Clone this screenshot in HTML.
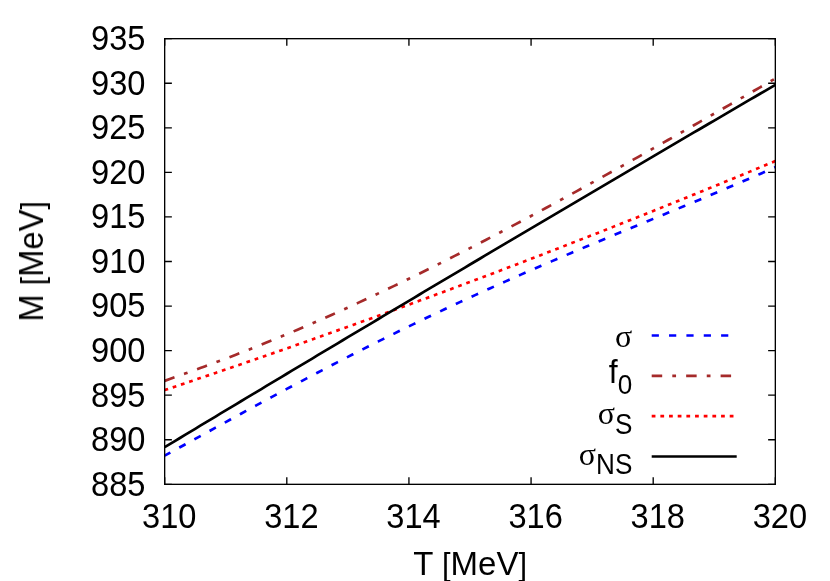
<!DOCTYPE html>
<html><head><meta charset="utf-8"><title>plot</title>
<style>
html,body{margin:0;padding:0;background:#fff;}
body{width:830px;height:581px;overflow:hidden;}
svg{display:block;}
g.t{will-change:transform;}
text{font-family:"Liberation Sans",sans-serif;font-size:32px;fill:#000;}
.sym{font-family:"Liberation Serif",serif;}
</style></head><body>
<svg width="830" height="581" viewBox="0 0 830 581">
<rect x="0" y="0" width="830" height="581" fill="#fff"/>
<g stroke="#000" stroke-width="1.333" fill="none" stroke-linecap="butt">
<path d="M164.67,484.33h7.2M775.33,484.33h-7.2"/>
<path d="M164.67,439.76h7.2M775.33,439.76h-7.2"/>
<path d="M164.67,395.20h7.2M775.33,395.20h-7.2"/>
<path d="M164.67,350.63h7.2M775.33,350.63h-7.2"/>
<path d="M164.67,306.07h7.2M775.33,306.07h-7.2"/>
<path d="M164.67,261.50h7.2M775.33,261.50h-7.2"/>
<path d="M164.67,216.93h7.2M775.33,216.93h-7.2"/>
<path d="M164.67,172.37h7.2M775.33,172.37h-7.2"/>
<path d="M164.67,127.80h7.2M775.33,127.80h-7.2"/>
<path d="M164.67,83.24h7.2M775.33,83.24h-7.2"/>
<path d="M164.67,38.67h7.2M775.33,38.67h-7.2"/>
<path d="M164.67,484.33v-7.2M164.67,38.67v7.2"/>
<path d="M286.80,484.33v-7.2M286.80,38.67v7.2"/>
<path d="M408.93,484.33v-7.2M408.93,38.67v7.2"/>
<path d="M531.07,484.33v-7.2M531.07,38.67v7.2"/>
<path d="M653.20,484.33v-7.2M653.20,38.67v7.2"/>
<path d="M775.33,484.33v-7.2M775.33,38.67v7.2"/>
</g>
<g class="t" text-anchor="end">
<text transform="translate(145.40,495.73) scale(1,1.05)"><tspan font-size="32.6">885</tspan></text>
<text transform="translate(145.40,451.16) scale(1,1.05)"><tspan font-size="32.6">890</tspan></text>
<text transform="translate(145.40,406.60) scale(1,1.05)"><tspan font-size="32.6">895</tspan></text>
<text transform="translate(145.40,362.03) scale(1,1.05)"><tspan font-size="32.6">900</tspan></text>
<text transform="translate(145.40,317.47) scale(1,1.05)"><tspan font-size="32.6">905</tspan></text>
<text transform="translate(145.40,272.90) scale(1,1.05)"><tspan font-size="32.6">910</tspan></text>
<text transform="translate(145.40,228.33) scale(1,1.05)"><tspan font-size="32.6">915</tspan></text>
<text transform="translate(145.40,183.77) scale(1,1.05)"><tspan font-size="32.6">920</tspan></text>
<text transform="translate(145.40,139.20) scale(1,1.05)"><tspan font-size="32.6">925</tspan></text>
<text transform="translate(145.40,94.64) scale(1,1.05)"><tspan font-size="32.6">930</tspan></text>
<text transform="translate(145.40,50.07) scale(1,1.05)"><tspan font-size="32.6">935</tspan></text>
</g>
<g class="t" text-anchor="middle">
<text transform="translate(169.27,527.80) scale(1,1.07)"><tspan font-size="32.6">310</tspan></text>
<text transform="translate(291.40,527.80) scale(1,1.07)"><tspan font-size="32.6">312</tspan></text>
<text transform="translate(413.53,527.80) scale(1,1.07)"><tspan font-size="32.6">314</tspan></text>
<text transform="translate(535.67,527.80) scale(1,1.07)"><tspan font-size="32.6">316</tspan></text>
<text transform="translate(657.80,527.80) scale(1,1.07)"><tspan font-size="32.6">318</tspan></text>
<text transform="translate(779.93,527.80) scale(1,1.07)"><tspan font-size="32.6">320</tspan></text>
<text transform="translate(470.10,575.10) scale(1,1.0)"><tspan font-size="33">T <tspan font-size="30.8" dy="-0.6">[</tspan><tspan font-size="33" dy="0.6">MeV</tspan><tspan font-size="30.8" dy="-0.6">]</tspan></tspan></text>
<text transform="translate(43.50,261.35) rotate(-90) scale(1,1.05)"><tspan font-size="32.7">M <tspan font-size="30.4" dy="-0.6">[</tspan><tspan font-size="32.7" dy="0.6">MeV</tspan><tspan font-size="30.4" dy="-0.6">]</tspan></tspan></text>
</g>
<clipPath id="c"><rect x="164.67" y="38.67" width="610.6600000000001" height="445.65999999999997"/></clipPath>
<g fill="none" stroke-width="2.667" stroke-linecap="butt" clip-path="url(#c)">
<path d="M164.67,455.68 L169.76,452.88 L174.85,450.08 L179.94,447.28 L185.03,444.48 L190.11,441.68 L195.20,438.87 L200.29,436.07 L205.38,433.27 L210.47,430.47 L215.56,427.67 L220.65,424.88 L225.74,422.08 L230.82,419.29 L235.91,416.51 L241.00,413.73 L246.09,410.95 L251.18,408.18 L256.27,405.41 L261.36,402.65 L266.45,399.89 L271.54,397.14 L276.62,394.40 L281.71,391.67 L286.80,388.94 L291.89,386.22 L296.98,383.51 L302.07,380.81 L307.16,378.11 L312.25,375.43 L317.34,372.75 L322.42,370.08 L327.51,367.42 L332.60,364.78 L337.69,362.14 L342.78,359.51 L347.87,356.89 L352.96,354.29 L358.05,351.69 L363.13,349.11 L368.22,346.53 L373.31,343.97 L378.40,341.42 L383.49,338.88 L388.58,336.35 L393.67,333.83 L398.76,331.32 L403.85,328.83 L408.93,326.35 L414.02,323.88 L419.11,321.42 L424.20,318.97 L429.29,316.53 L434.38,314.11 L439.47,311.70 L444.56,309.29 L449.64,306.91 L454.73,304.53 L459.82,302.16 L464.91,299.81 L470.00,297.46 L475.09,295.13 L480.18,292.81 L485.27,290.50 L490.36,288.20 L495.44,285.91 L500.53,283.63 L505.62,281.36 L510.71,279.11 L515.80,276.86 L520.89,274.62 L525.98,272.39 L531.07,270.17 L536.15,267.96 L541.24,265.76 L546.33,263.56 L551.42,261.38 L556.51,259.20 L561.60,257.03 L566.69,254.87 L571.78,252.72 L576.87,250.57 L581.95,248.43 L587.04,246.29 L592.13,244.16 L597.22,242.03 L602.31,239.91 L607.40,237.80 L612.49,235.69 L617.58,233.58 L622.67,231.47 L627.75,229.37 L632.84,227.27 L637.93,225.17 L643.02,223.07 L648.11,220.98 L653.20,218.88 L658.29,216.79 L663.38,214.69 L668.46,212.59 L673.55,210.49 L678.64,208.39 L683.73,206.28 L688.82,204.17 L693.91,202.06 L699.00,199.94 L704.09,197.82 L709.18,195.69 L714.26,193.55 L719.35,191.41 L724.44,189.26 L729.53,187.10 L734.62,184.93 L739.71,182.75 L744.80,180.56 L749.89,178.36 L754.97,176.14 L760.06,173.92 L765.15,171.68 L770.24,169.42 L775.33,167.15" stroke="#0000ff" stroke-dasharray="7.2 10.12" stroke-dashoffset="0.7"/>
<path d="M164.67,380.88 L169.76,379.06 L174.85,377.23 L179.94,375.41 L185.03,373.58 L190.11,371.75 L195.20,369.90 L200.29,368.05 L205.38,366.18 L210.47,364.30 L215.56,362.41 L220.65,360.50 L225.74,358.58 L230.82,356.64 L235.91,354.68 L241.00,352.71 L246.09,350.73 L251.18,348.72 L256.27,346.70 L261.36,344.67 L266.45,342.61 L271.54,340.54 L276.62,338.45 L281.71,336.35 L286.80,334.23 L291.89,332.09 L296.98,329.94 L302.07,327.77 L307.16,325.59 L312.25,323.39 L317.34,321.17 L322.42,318.94 L327.51,316.69 L332.60,314.42 L337.69,312.15 L342.78,309.85 L347.87,307.54 L352.96,305.22 L358.05,302.88 L363.13,300.53 L368.22,298.16 L373.31,295.78 L378.40,293.39 L383.49,290.98 L388.58,288.56 L393.67,286.12 L398.76,283.67 L403.85,281.21 L408.93,278.74 L414.02,276.25 L419.11,273.75 L424.20,271.24 L429.29,268.72 L434.38,266.18 L439.47,263.63 L444.56,261.07 L449.64,258.50 L454.73,255.92 L459.82,253.33 L464.91,250.73 L470.00,248.11 L475.09,245.49 L480.18,242.85 L485.27,240.21 L490.36,237.55 L495.44,234.89 L500.53,232.21 L505.62,229.53 L510.71,226.84 L515.80,224.14 L520.89,221.42 L525.98,218.71 L531.07,215.98 L536.15,213.24 L541.24,210.50 L546.33,207.74 L551.42,204.98 L556.51,202.22 L561.60,199.44 L566.69,196.66 L571.78,193.87 L576.87,191.07 L581.95,188.27 L587.04,185.46 L592.13,182.64 L597.22,179.82 L602.31,176.99 L607.40,174.15 L612.49,171.31 L617.58,168.47 L622.67,165.62 L627.75,162.76 L632.84,159.90 L637.93,157.04 L643.02,154.17 L648.11,151.29 L653.20,148.41 L658.29,145.53 L663.38,142.64 L668.46,139.75 L673.55,136.86 L678.64,133.96 L683.73,131.06 L688.82,128.16 L693.91,125.25 L699.00,122.34 L704.09,119.43 L709.18,116.52 L714.26,113.60 L719.35,110.68 L724.44,107.77 L729.53,104.85 L734.62,101.92 L739.71,99.00 L744.80,96.08 L749.89,93.15 L754.97,90.23 L760.06,87.30 L765.15,84.37 L770.24,81.45 L775.33,78.52" stroke="#a52a2a" stroke-dasharray="10.53 10.13 3.76 10.137" stroke-dashoffset="0.1"/>
<path d="M164.67,390.06 L169.76,388.36 L174.85,386.66 L179.94,384.96 L185.03,383.25 L190.11,381.54 L195.20,379.83 L200.29,378.11 L205.38,376.39 L210.47,374.66 L215.56,372.93 L220.65,371.20 L225.74,369.46 L230.82,367.73 L235.91,365.98 L241.00,364.24 L246.09,362.49 L251.18,360.73 L256.27,358.98 L261.36,357.21 L266.45,355.45 L271.54,353.68 L276.62,351.91 L281.71,350.14 L286.80,348.36 L291.89,346.58 L296.98,344.79 L302.07,343.00 L307.16,341.21 L312.25,339.41 L317.34,337.61 L322.42,335.81 L327.51,334.00 L332.60,332.19 L337.69,330.38 L342.78,328.56 L347.87,326.74 L352.96,324.91 L358.05,323.09 L363.13,321.25 L368.22,319.42 L373.31,317.58 L378.40,315.74 L383.49,313.89 L388.58,312.04 L393.67,310.19 L398.76,308.33 L403.85,306.47 L408.93,304.61 L414.02,302.74 L419.11,300.87 L424.20,298.99 L429.29,297.12 L434.38,295.23 L439.47,293.35 L444.56,291.46 L449.64,289.57 L454.73,287.67 L459.82,285.77 L464.91,283.87 L470.00,281.96 L475.09,280.05 L480.18,278.14 L485.27,276.22 L490.36,274.30 L495.44,272.38 L500.53,270.45 L505.62,268.52 L510.71,266.58 L515.80,264.64 L520.89,262.70 L525.98,260.76 L531.07,258.81 L536.15,256.85 L541.24,254.90 L546.33,252.94 L551.42,250.97 L556.51,249.01 L561.60,247.04 L566.69,245.06 L571.78,243.08 L576.87,241.10 L581.95,239.12 L587.04,237.13 L592.13,235.14 L597.22,233.14 L602.31,231.14 L607.40,229.14 L612.49,227.13 L617.58,225.13 L622.67,223.11 L627.75,221.10 L632.84,219.07 L637.93,217.05 L643.02,215.02 L648.11,212.99 L653.20,210.96 L658.29,208.92 L663.38,206.88 L668.46,204.83 L673.55,202.78 L678.64,200.73 L683.73,198.68 L688.82,196.62 L693.91,194.55 L699.00,192.49 L704.09,190.42 L709.18,188.34 L714.26,186.26 L719.35,184.18 L724.44,182.10 L729.53,180.01 L734.62,177.92 L739.71,175.83 L744.80,173.73 L749.89,171.62 L754.97,169.52 L760.06,167.41 L765.15,165.30 L770.24,163.18 L775.33,161.06" stroke="#ff0000" stroke-dasharray="3.75 4.902" stroke-dashoffset="0.15"/>
<path d="M164.67,447.20 L169.76,444.13 L174.85,441.06 L179.94,437.99 L185.03,434.93 L190.11,431.86 L195.20,428.80 L200.29,425.73 L205.38,422.67 L210.47,419.60 L215.56,416.54 L220.65,413.48 L225.74,410.42 L230.82,407.36 L235.91,404.30 L241.00,401.24 L246.09,398.19 L251.18,395.13 L256.27,392.08 L261.36,389.02 L266.45,385.97 L271.54,382.92 L276.62,379.86 L281.71,376.81 L286.80,373.76 L291.89,370.71 L296.98,367.66 L302.07,364.62 L307.16,361.57 L312.25,358.52 L317.34,355.48 L322.42,352.43 L327.51,349.39 L332.60,346.35 L337.69,343.31 L342.78,340.26 L347.87,337.22 L352.96,334.19 L358.05,331.15 L363.13,328.11 L368.22,325.07 L373.31,322.04 L378.40,319.00 L383.49,315.97 L388.58,312.93 L393.67,309.90 L398.76,306.87 L403.85,303.84 L408.93,300.81 L414.02,297.78 L419.11,294.75 L424.20,291.72 L429.29,288.70 L434.38,285.67 L439.47,282.65 L444.56,279.62 L449.64,276.60 L454.73,273.58 L459.82,270.55 L464.91,267.53 L470.00,264.51 L475.09,261.49 L480.18,258.48 L485.27,255.46 L490.36,252.44 L495.44,249.43 L500.53,246.41 L505.62,243.40 L510.71,240.38 L515.80,237.37 L520.89,234.36 L525.98,231.35 L531.07,228.34 L536.15,225.33 L541.24,222.32 L546.33,219.31 L551.42,216.31 L556.51,213.30 L561.60,210.30 L566.69,207.29 L571.78,204.29 L576.87,201.29 L581.95,198.29 L587.04,195.28 L592.13,192.28 L597.22,189.29 L602.31,186.29 L607.40,183.29 L612.49,180.29 L617.58,177.30 L622.67,174.30 L627.75,171.31 L632.84,168.32 L637.93,165.32 L643.02,162.33 L648.11,159.34 L653.20,156.35 L658.29,153.36 L663.38,150.38 L668.46,147.39 L673.55,144.40 L678.64,141.42 L683.73,138.43 L688.82,135.45 L693.91,132.46 L699.00,129.48 L704.09,126.50 L709.18,123.52 L714.26,120.54 L719.35,117.56 L724.44,114.58 L729.53,111.61 L734.62,108.63 L739.71,105.65 L744.80,102.68 L749.89,99.71 L754.97,96.73 L760.06,93.76 L765.15,90.79 L770.24,87.82 L775.33,84.85" stroke="#000000"/>
</g>
<g fill="none" stroke-width="2.667" stroke-linecap="butt">
<path d="M651.7,335.5H736.7" stroke="#0000ff" stroke-dasharray="7.2 10.15"/>
<path d="M651.7,375.83H736.7" stroke="#a52a2a" stroke-dasharray="10.5 10.1 3.75 10.1"/>
<path d="M651.7,416.17H736.7" stroke="#ff0000" stroke-dasharray="3.75 4.92"/>
<path d="M651.7,456.5H736.7" stroke="#000000"/>
</g>
<g class="t" text-anchor="end">
<text class="sym" x="632.2" y="346.7" font-size="32">σ</text>
<text class="sym" x="615.1" y="424.3" font-size="32">σ</text>
<text class="sym" x="596.1" y="464.6" font-size="32">σ</text>
</g>
<g class="t" text-anchor="end">
<text transform="translate(617.67,383.43) scale(1,1.02)">f</text>
<text transform="translate(632.20,393.58) scale(1,1.075)"><tspan font-size="26.1">0</tspan></text>
<text transform="translate(632.30,434.17) scale(1,1.14)"><tspan font-size="26.1">S</tspan></text>
<text transform="translate(632.30,474.30) scale(1,1.13)"><tspan font-size="26.1">NS</tspan></text>
</g>
<rect x="164.67" y="38.67" width="610.6600000000001" height="445.65999999999997" fill="none" stroke="#000" stroke-width="1.333"/>
</svg></body></html>
